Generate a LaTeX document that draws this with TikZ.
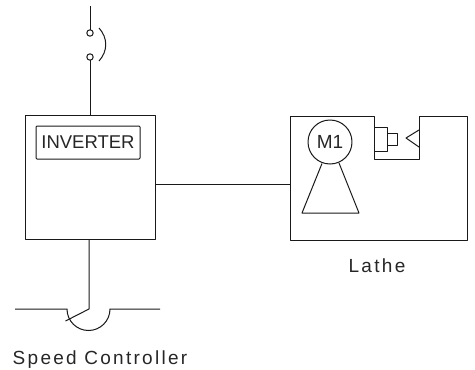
\documentclass[tikz,border=0pt]{standalone}
\usepackage{fontspec}
\setmainfont{Liberation Sans}
\newfontfamily\spacedfont[LetterSpace=12]{Liberation Sans}
\begin{document}
\begin{tikzpicture}[x=1pt,y=-1pt,
  ln/.style={draw=black!90,line width=1pt,line join=round},
  boxn/.style={ln,rectangle,inner sep=0pt,outer sep=0pt},
  termn/.style={ln,circle,minimum size=6.4pt,inner sep=0pt,outer sep=0pt,fill=white},
  lbl/.style={inner sep=0pt,text=black!85,font=\fontsize{19}{19}\selectfont\spacedfont},
  lblb/.style={inner sep=0pt,text=black!85,font=\fontsize{18.5}{19}\selectfont}]
\useasboundingbox (0,0) rectangle (475,370);
% inverter
\node[boxn,minimum width=130pt,minimum height=124pt] (inv) at (90,177) {};
\node[boxn,rounded corners=1pt,minimum width=104pt,minimum height=33pt,lblb] (invlab) at (88,142.5) {INVERTER};
% switch
\coordinate (swtop) at (90,6);
\node[termn] (t1) at (90,33) {};
\node[termn] (t2) at (90,57) {};
\draw[ln] (swtop) -- (t1.north);
\draw[ln] (t2.south) -- (inv.north -| t2.south);
\draw[ln] (99,28) .. controls (108,38) and (108,51) .. (99,61);
% lathe body
\draw[ln] (290,116) -- (374,116) -- (374,159) -- (419,159) -- (419,116) -- (467,116) -- (467,240) -- (290,240) -- cycle;
\coordinate (lathew) at (290,184);
\draw[ln] (inv.east |- lathew) -- (lathew);
% motor
\node[ln,circle,minimum size=44pt,inner sep=0pt,outer sep=0pt,font=\fontsize{19}{19}\selectfont,text=black!85] (m1) at (330,142) {M1};
\draw[ln] (322,163.5) -- (302,213) -- (359,213) -- (339,163);
% chuck
\node[boxn,minimum width=13pt,minimum height=24pt] (ch1) at (380.5,139) {};
\node[boxn,minimum width=10pt,minimum height=12pt] (ch2) at (392,139) {};
\draw[ln] (419,130) -- (406,138) -- (419,147);
\node[lbl] (lathe) at (377,266) {Lathe};
% speed controller
\coordinate (pa) at (15,309);
\coordinate (pb) at (67,309);
\coordinate (pc) at (110,309);
\coordinate (pd) at (160,309);
\coordinate (knob) at (89,309);
\coordinate (tip) at (65.5,321);
\draw[ln] (pa) -- (pb) arc[start angle=180,end angle=360,x radius=21.5pt,y radius=21.5pt] -- (pd);
\draw[ln] (inv.south -| knob) -- (knob) -- (tip);
\node[lbl] (speed) at (100,360) {Speed Controller};
\end{tikzpicture}
\end{document}
